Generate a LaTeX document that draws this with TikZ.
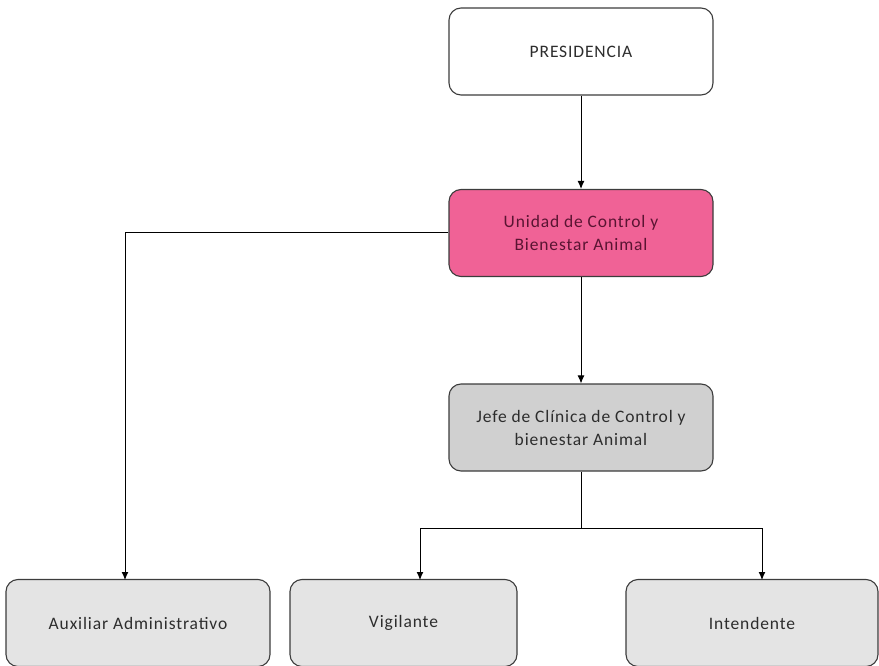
\documentclass[tikz,border=0pt]{standalone}
\usepackage{fontspec}
\setmainfont[LetterSpace=5]{Carlito}
\usetikzlibrary{arrows.meta}
\definecolor{pinkfill}{RGB}{240,98,150}
\definecolor{pinktext}{RGB}{90,20,50}
\definecolor{grayfill}{RGB}{208,208,208}
\definecolor{lightfill}{RGB}{228,228,228}
\definecolor{edge}{RGB}{60,60,60}
\definecolor{txt}{RGB}{45,45,45}
\begin{document}
\begin{tikzpicture}[x=1pt,y=-1pt,
  box/.style={draw=edge,line width=1.1pt,rounded corners=12pt,minimum width=264pt,minimum height=87pt,align=center,font=\fontsize{17.5}{23}\selectfont,text=txt,inner sep=0pt},
  conn/.style={draw=black,line width=1pt},
  arr/.style={conn,-{Latex[length=8pt,width=7pt]}}]
\useasboundingbox (0,0) rectangle (879,666);
\node[box,fill=white] (pres) at (581,51.5) {PRESIDENCIA};
\node[box,fill=pinkfill,text=pinktext] (unidad) at (581,233) {Unidad de Control y\\Bienestar Animal};
\node[box,fill=grayfill] (jefe) at (581,427.5) {Jefe de Clínica de Control y\\bienestar Animal};
\node[box,fill=lightfill] (aux) at (138,623) {Auxiliar Administrativo};
\node[box,fill=lightfill,minimum width=227pt] (vig) at (403.5,623) {Vigilante};
\node[box,fill=lightfill,minimum width=252pt] (int) at (752,623) {Intendente};
\coordinate (split) at (581,528);
\coordinate (auxin) at (125,580);
\coordinate (vigin) at (420,580);
\coordinate (intin) at (762,580);
\draw[arr] (pres) -- (unidad);
\draw[arr] (unidad) -- (jefe);
\draw[arr] (unidad.west) -| (auxin);
\draw[conn] (jefe.south) -- (split);
\draw[arr] (split) -| (vigin);
\draw[arr] (split) -| (intin);
\end{tikzpicture}
\end{document}
